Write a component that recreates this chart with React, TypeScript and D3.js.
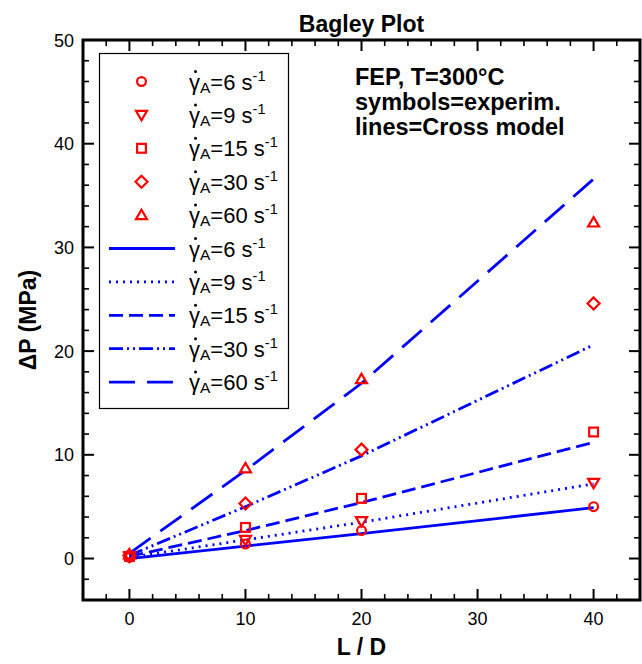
import React from "react";
import * as d3 from "d3";

const W = 642;
const H = 664;

const rates = [6, 9, 15, 30, 60];
const ldValues = [0, 10, 20, 40];
const expData: number[][] = [
  [0.1, 1.4, 2.7, 5.0],
  [0.2, 1.8, 3.6, 7.3],
  [0.2, 3.0, 5.8, 12.2],
  [0.3, 5.3, 10.5, 24.6],
  [0.4, 8.7, 17.3, 32.4],
];
const modelX = [0, 10, 20, 40];
const modelData: number[][] = [
  [0.0, 1.2, 2.4, 4.9],
  [0.1, 1.8, 3.5, 7.2],
  [0.2, 2.7, 5.4, 11.2],
  [0.3, 5.0, 9.9, 20.6],
  [0.5, 8.5, 16.9, 36.6],
];
const xTicks = [0, 10, 20, 30, 40];
const yTicks = [0, 10, 20, 30, 40, 50];
const markerTypes = ["circle", "triDown", "square", "diamond", "triUp"];
const dashTypes = ["none", "2 5", "14 6", "14 4 2 4 2 4", "26 12"];
const noteLines = ["FEP, T=300°C", "symbols=experim.", "lines=Cross model"];

const FONT = "'Liberation Sans', Arial, Helvetica, sans-serif";

function Marker({ type, x, y }: { type: string; x: number; y: number }) {
  const s = { fill: "none", stroke: "#f00", strokeWidth: 2.2 };
  if (type === "circle") return <circle cx={x} cy={y} r={4.4} {...s} />;
  if (type === "square") return <rect x={x - 4.4} y={y - 4.4} width={8.8} height={8.8} {...s} />;
  if (type === "diamond")
    return <path d={`M${x},${y - 6}L${x + 6},${y}L${x},${y + 6}L${x - 6},${y}Z`} {...s} />;
  if (type === "triUp")
    return <path d={`M${x},${y - 5.4}L${x + 5.5},${y + 4}L${x - 5.5},${y + 4}Z`} {...s} />;
  return <path d={`M${x},${y + 5.4}L${x + 5.5},${y - 4}L${x - 5.5},${y - 4}Z`} {...s} />;
}

function GammaLabel({ x, y, rate }: { x: number; y: number; rate: number }) {
  return (
    <g>
      <circle cx={x + 6.5} cy={y - 18} r={1.5} fill="#000" />
      <text x={x} y={y} fontFamily={FONT} fontSize={22} fill="#000">
        γ
        <tspan fontSize={15.5} dy={3}>A</tspan>
        <tspan dy={-3}>={rate} s</tspan>
        <tspan fontSize={14.5} dy={-9}>-1</tspan>
      </text>
    </g>
  );
}

export default function App() {
  const x = d3.scaleLinear().domain([-4, 44]).range([83, 640]);
  const y = d3.scaleLinear().domain([-4, 50]).range([600, 40]);
  const line = d3
    .line<[number, number]>()
    .x((d) => x(d[0]))
    .y((d) => y(d[1]));

  const xMinor = d3.range(-2, 44, 2).filter((v) => v % 10 !== 0);
  const yMinor = d3.range(-2, 50, 2).filter((v) => v % 10 !== 0);
  const [x0, x1] = x.range();
  const [y0, y1] = y.range();

  const legTop = 81.5;
  const legStep = 33.4;

  return (
    <svg width={W} height={H} style={{ display: "block", position: "absolute", left: 0, top: 0 }}>
      <rect width={W} height={H} fill="#fff" />
      <text x={(x0 + x1) / 2} y={32} textAnchor="middle" fontFamily={FONT} fontWeight="bold" fontSize={23}>
        Bagley Plot
      </text>

      {/* model lines */}
      {modelData.map((vals, i) => (
        <path
          key={"l" + i}
          d={line(modelX.map((lx, j) => [lx, vals[j]] as [number, number])) || ""}
          fill="none"
          stroke="#00f"
          strokeWidth={2.8}
          strokeDasharray={dashTypes[i] === "none" ? undefined : dashTypes[i]}
        />
      ))}

      {/* experimental points */}
      {expData.map((vals, i) =>
        vals.map((v, j) => <Marker key={"m" + i + "-" + j} type={markerTypes[i]} x={x(ldValues[j])} y={y(v)} />)
      )}

      {/* frame ticks */}
      {xTicks.map((t) => (
        <g key={"xt" + t}>
          <line x1={x(t)} x2={x(t)} y1={y0} y2={y0 - 11} stroke="#000" strokeWidth={2} />
          <line x1={x(t)} x2={x(t)} y1={y1} y2={y1 + 11} stroke="#000" strokeWidth={2} />
          <text x={x(t)} y={y0 + 25} textAnchor="middle" fontFamily={FONT} fontSize={18}>
            {t}
          </text>
        </g>
      ))}
      {xMinor.map((t) => (
        <g key={"xm" + t}>
          <line x1={x(t)} x2={x(t)} y1={y0} y2={y0 - 6} stroke="#000" strokeWidth={1.6} />
          <line x1={x(t)} x2={x(t)} y1={y1} y2={y1 + 6} stroke="#000" strokeWidth={1.6} />
        </g>
      ))}
      {yTicks.map((t) => (
        <g key={"yt" + t}>
          <line x1={x0} x2={x0 + 11} y1={y(t)} y2={y(t)} stroke="#000" strokeWidth={2} />
          <line x1={x1} x2={x1 - 11} y1={y(t)} y2={y(t)} stroke="#000" strokeWidth={2} />
          <text x={x0 - 9} y={y(t) + 6.5} textAnchor="end" fontFamily={FONT} fontSize={18}>
            {t}
          </text>
        </g>
      ))}
      {yMinor.map((t) => (
        <g key={"ym" + t}>
          <line x1={x0} x2={x0 + 6} y1={y(t)} y2={y(t)} stroke="#000" strokeWidth={1.6} />
          <line x1={x1} x2={x1 - 6} y1={y(t)} y2={y(t)} stroke="#000" strokeWidth={1.6} />
        </g>
      ))}
      <rect x={x0} y={y1} width={x1 - x0} height={y0 - y1} fill="none" stroke="#000" strokeWidth={3} />

      {/* legend */}
      <rect x={99.5} y={53.5} width={189} height={355} fill="#fff" stroke="#000" strokeWidth={1.2} />
      {rates.map((r, i) => (
        <g key={"le" + i}>
          <Marker type={markerTypes[i]} x={141.5} y={legTop + i * legStep} />
          <GammaLabel x={189} y={legTop + i * legStep + 8} rate={r} />
        </g>
      ))}
      {rates.map((r, i) => {
        const ly = legTop + (i + 5) * legStep;
        return (
          <g key={"ll" + i}>
            <line
              x1={109}
              x2={175}
              y1={ly}
              y2={ly}
              stroke="#00f"
              strokeWidth={2.8}
              strokeDasharray={dashTypes[i] === "none" ? undefined : dashTypes[i]}
            />
            <GammaLabel x={189} y={ly + 8} rate={r} />
          </g>
        );
      })}

      {/* note */}
      {noteLines.map((t, i) => (
        <text key={"n" + i} x={355} y={85 + i * 25} fontFamily={FONT} fontWeight="bold" fontSize={23.5}>
          {t}
        </text>
      ))}

      {/* axis titles */}
      <text x={(x0 + x1) / 2} y={655} textAnchor="middle" fontFamily={FONT} fontWeight="bold" fontSize={23}>
        L / D
      </text>
      <text
        transform={`translate(36,${(y0 + y1) / 2}) rotate(-90)`}
        textAnchor="middle"
        fontFamily={FONT}
        fontWeight="bold"
        fontSize={23}
      >
        ΔP (MPa)
      </text>
    </svg>
  );
}
